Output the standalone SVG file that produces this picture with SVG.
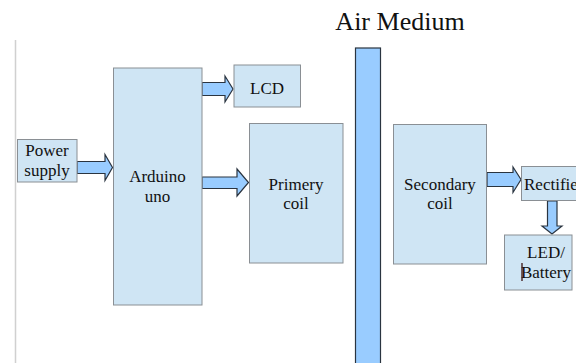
<svg xmlns="http://www.w3.org/2000/svg" width="576" height="363" viewBox="0 0 576 363">
<style>
.box{fill:#cfe5f4;stroke:#8a8f94;stroke-width:1}
.arr{fill:#99ccff;stroke:#2a3440;stroke-width:1.2;stroke-linejoin:miter}
</style>
<rect width="576" height="363" fill="#fff"/>
<line x1="15.5" y1="40" x2="15.5" y2="363" stroke="#d0d0d0" stroke-width="1.5"/>
<g id="air-medium">
<rect x="355.5" y="48" width="25" height="320" fill="#99ccff" stroke="#2a3440" stroke-width="1.2"/>
<text x="400" y="29.5" font-family="'Liberation Serif', serif" font-size="26" text-anchor="middle" fill="#111">Air Medium</text>
</g>
<g id="connectors">
<path class="arr" d="M77,161.5 H105 V154.5 L112.5,167.5 L105,180.5 V173.5 H77 Z"/>
<path class="arr" d="M202,82.5 H225 V76 L233,89 L225,102 V95.5 H202 Z"/>
<path class="arr" d="M202,177 H237 V169 L248.5,182.5 L237,196 V188.5 H202 Z"/>
<path class="arr" d="M487,172.5 H513 V167 L521,179.5 L513,192.5 V186.5 H487 Z"/>
<path class="arr" d="M547.5,201 V226 H542 L552,234 L562,226 H557 V201 Z"/>
</g>
<g font-family="'Liberation Serif', 'Times New Roman', serif" font-size="17" fill="#111" text-anchor="middle">
<g id="power-supply">
<rect class="box" x="17.5" y="139.5" width="59.5" height="42.5"/>
<text x="47" y="156">Power</text>
<text x="47" y="176">supply</text>
</g>
<g id="arduino">
<rect class="box" x="113.5" y="68" width="88.5" height="237"/>
<text x="157.5" y="182">Arduino</text>
<text x="157.5" y="202">uno</text>
</g>
<g id="lcd">
<rect class="box" x="234" y="65" width="66.5" height="42"/>
<text x="267" y="94">LCD</text>
</g>
<g id="primery-coil">
<rect class="box" x="249.5" y="123.5" width="93.5" height="139.5"/>
<text x="296" y="190">Primery</text>
<text x="296" y="209">coil</text>
</g>
<g id="secondary-coil">
<rect class="box" x="393.5" y="124.5" width="93" height="139.5"/>
<text x="440" y="190">Secondary</text>
<text x="440" y="209">coil</text>
</g>
<g id="rectifier">
<rect class="box" x="521.5" y="166.5" width="80" height="34"/>
<text x="524" y="190" text-anchor="start">Rectifier</text>
</g>
<g id="led-battery">
<rect class="box" x="504.5" y="235" width="67.5" height="55"/>
<text x="546" y="258">LED/</text>
<text x="546" y="278">Battery</text>
<line x1="522" y1="263" x2="522" y2="281" stroke="#3a1010" stroke-width="1.3"/>
</g>
</g>
</svg>
